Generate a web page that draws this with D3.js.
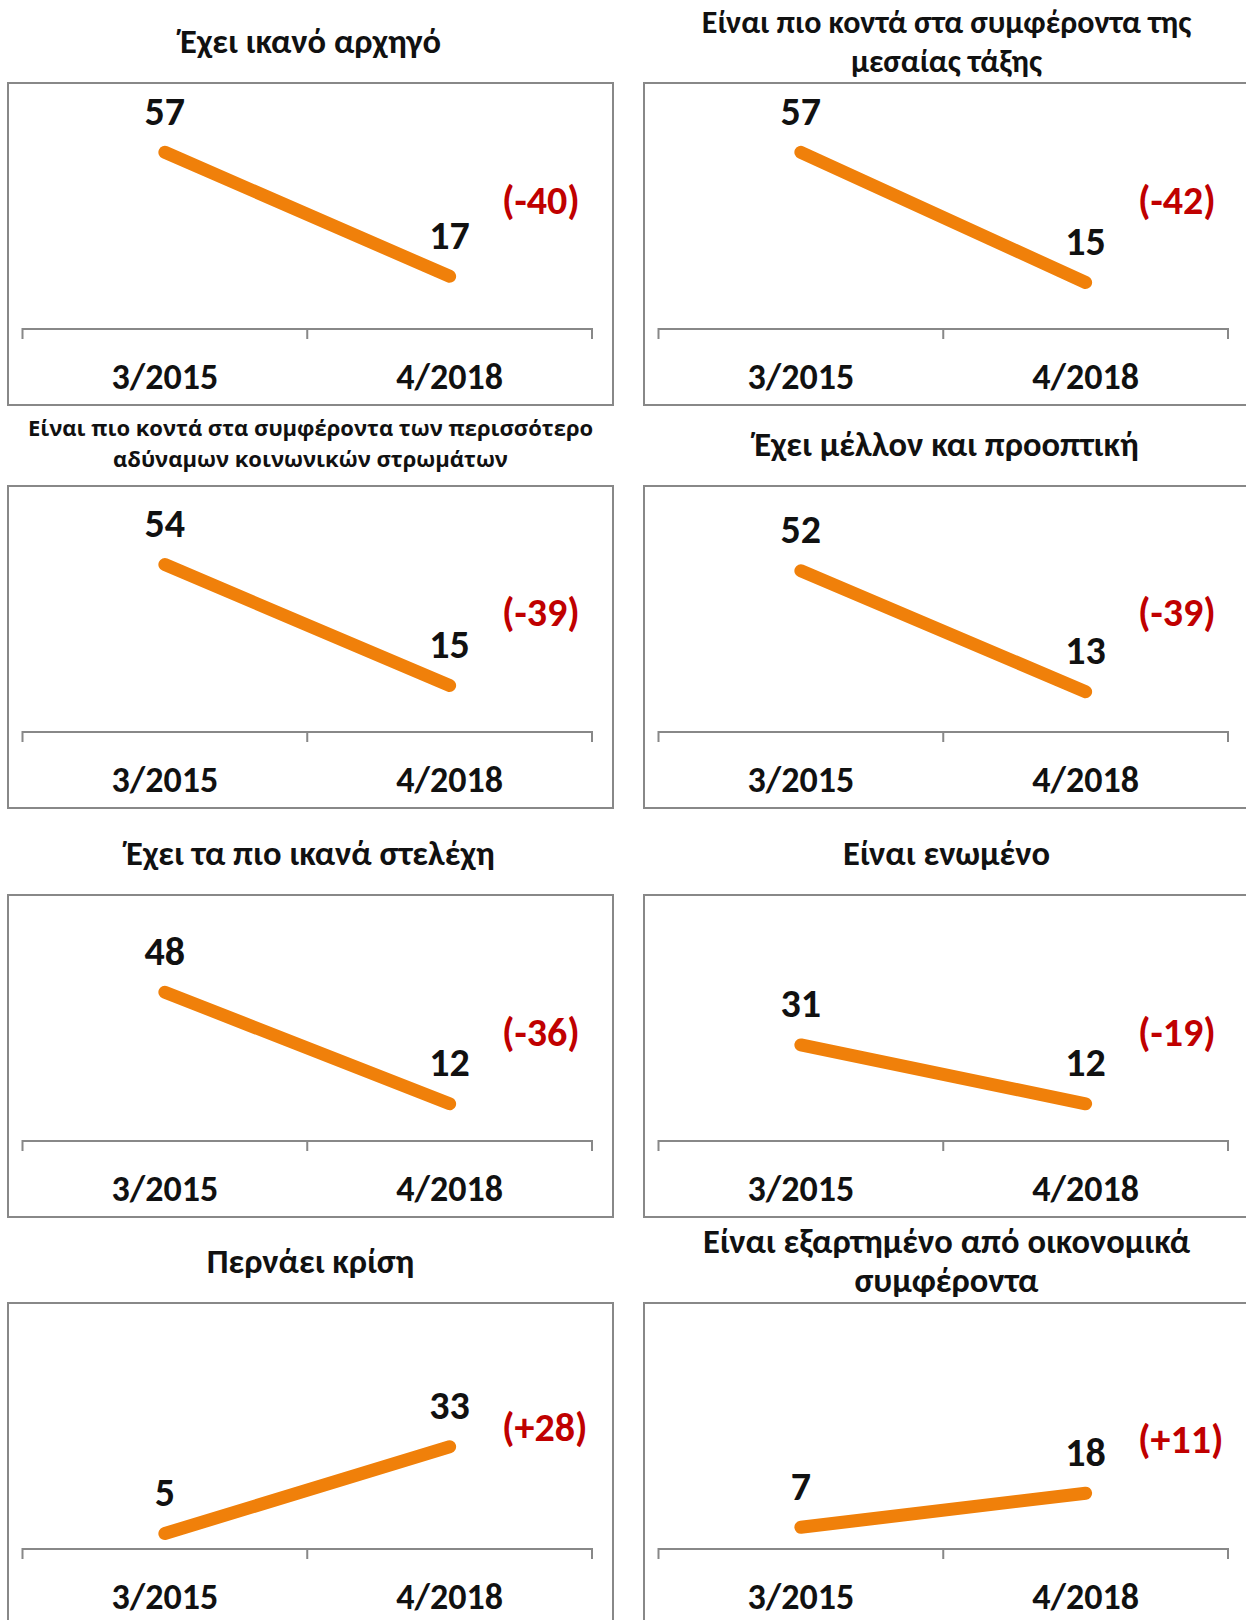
<!DOCTYPE html>
<html>
<head>
<meta charset="utf-8">
<script src="https://cdn.jsdelivr.net/npm/d3@7"></script>
<style>
body { margin: 0; background: #fff; }
svg text { font-family: Carlito, Calibri, "Open Sans", "Noto Sans", sans-serif; font-weight: bold; }
svg text.alt { font-family: "Open Sans", "Noto Sans", sans-serif; }
</style>
</head>
<body>
<script>
// data
var periods = ["3/2015", "4/2018"];
var titles = [
    ["Έχει ικανό αρχηγό"],
    ["Είναι πιο κοντά στα συμφέροντα της", "μεσαίας τάξης"],
    ["Είναι πιο κοντά στα συμφέροντα των περισσότερο", "αδύναμων κοινωνικών στρωμάτων"],
    ["Έχει μέλλον και προοπτική"],
    ["Έχει τα πιο ικανά στελέχη"],
    ["Είναι ενωμένο"],
    ["Περνάει κρίση"],
    ["Είναι εξαρτημένο από οικονομικά", "συμφέροντα"]
];
var v2015 = [57, 57, 54, 52, 48, 31, 5, 7];
var v2018 = [17, 15, 15, 13, 12, 12, 33, 18];

// layout
var W = 1246, H = 1620;
var colX = [8, 644];
var rowY = [83, 486, 895, 1303];
var boxW = 605, boxH = 322;
var axisY = 246;
var changeY = [131, 131, 140, 140, 151, 151, 138, 150]; // baseline of the red label, from box top
var titleSize = [34.5, 32, 22, 34.5, 34.5, 34.5, 34.5, 34.5];

var svg = d3.select("body").append("svg")
    .attr("width", W)
    .attr("height", H);

var x = d3.scalePoint().domain(periods).range([14.5, 584]).padding(0.5);
var y = d3.scaleLinear().domain([0, 80]).range([axisY, axisY - 248]);

function change(d) {
    return "(" + (d > 0 ? "+" : "-") + Math.abs(d) + ")";
}

titles.forEach(function(t, i) {
    var bx = colX[i % 2], by = rowY[Math.floor(i / 2)];
    var g = svg.append("g").attr("transform", "translate(" + bx + "," + by + ")");

    // box
    g.append("rect")
        .attr("x", 0).attr("y", 0)
        .attr("width", boxW).attr("height", boxH)
        .attr("fill", "none")
        .attr("stroke", "#888")
        .attr("stroke-width", 2);

    // title (last line sits just above the box)
    var fs = titleSize[i];
    var small = fs < 25;
    var lh = small ? 31 : 39;
    var lastBase = t.length > 1 ? (small ? -19 : -11) : -30;
    g.selectAll("text.title")
        .data(t)
        .enter()
        .append("text")
        .attr("class", small ? "title alt" : "title")
        .attr("x", boxW / 2)
        .attr("y", function(d, k) { return lastBase - (t.length - 1 - k) * lh; })
        .attr("text-anchor", "middle")
        .attr("font-size", fs)
        .attr("fill", "#111")
        .text(function(d) { return d; });

    // category axis
    var ag = g.append("g").attr("transform", "translate(0," + axisY + ")");
    ag.append("path")
        .attr("d", "M14.5,10V0H584V10M" + ((14.5 + 584) / 2) + ",0V10")
        .attr("fill", "none")
        .attr("stroke", "#888")
        .attr("stroke-width", 2);
    ag.selectAll("text.cat")
        .data(periods)
        .enter()
        .append("text")
        .attr("class", "cat")
        .attr("x", function(d) { return x(d); })
        .attr("y", 60)
        .attr("text-anchor", "middle")
        .attr("font-size", 36)
        .attr("fill", "#111")
        .text(function(d) { return d; });

    // line
    var pts = [[periods[0], v2015[i]], [periods[1], v2018[i]]];
    g.append("path")
        .datum(pts)
        .attr("d", d3.line()
            .x(function(d) { return x(d[0]); })
            .y(function(d) { return y(d[1]); }))
        .attr("fill", "none")
        .attr("stroke", "#F0800A")
        .attr("stroke-width", 13)
        .attr("stroke-linecap", "round");

    // value labels
    g.selectAll("text.val")
        .data(pts)
        .enter()
        .append("text")
        .attr("class", "val")
        .attr("x", function(d) { return x(d[0]); })
        .attr("y", function(d) { return y(d[1]) - 27.5; })
        .attr("text-anchor", "middle")
        .attr("font-size", 40)
        .attr("fill", "#111")
        .text(function(d) { return d[1]; });

    // change label
    g.append("text")
        .attr("x", 494)
        .attr("y", changeY[i])
        .attr("font-size", 40)
        .attr("fill", "#C00000")
        .text(change(v2018[i] - v2015[i]));
});
</script>
</body>
</html>
